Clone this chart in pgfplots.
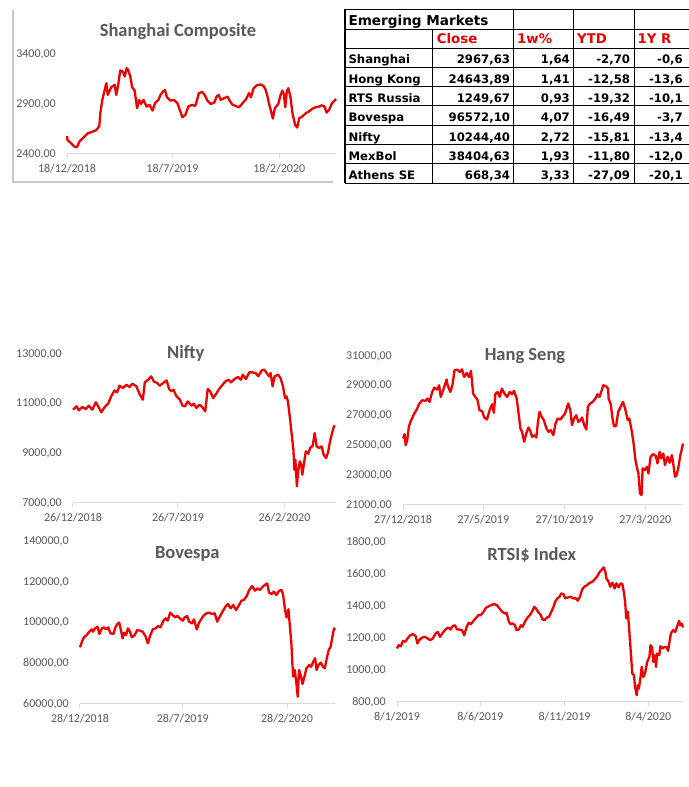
\documentclass[border=0pt]{standalone}
\usepackage{pgfplots}
\pgfplotsset{compat=1.18}
\usepackage{fontspec}
\setmainfont{Carlito}
\newfontfamily\tabfont{DejaVu Sans}
\definecolor{lbl}{HTML}{595959}
\definecolor{axl}{HTML}{D9D9D9}
\definecolor{ser}{RGB}{240,0,0}
\definecolor{hdr}{RGB}{230,0,0}
\definecolor{frm}{HTML}{C8C8C8}
\pgfplotsset{
 mychart/.style={
  scale only axis,
  enlargelimits=false,
  scaled y ticks=false, scaled x ticks=false,
  axis x line=bottom, axis y line=left,
  axis line style={-},
  x axis line style={draw=axl, line width=1pt},
  y axis line style={draw=none},
  tick align=outside,
  major tick length=4pt,
  xtick style={draw=axl, line width=1pt},
  ytick style={draw=none},
  xticklabel style={font=\fontsize{12}{14}\selectfont, text=lbl, anchor=base, inner sep=0pt, yshift=-14.3pt},
  yticklabel style={font=\fontsize{12}{14}\selectfont, text=lbl, anchor=east, inner sep=0pt, xshift=-7pt},
  clip=false,
 },
 myline/.style={ser, line width=2.3pt, line join=round, mark=none},
}
\newcommand{\ttl}[1]{{\fontsize{18.5}{20}\selectfont\bfseries #1}}
\begin{document}
\begin{tikzpicture}[x=1pt,y=1pt]
\fill[white] (0,0) rectangle (688,787);
\path[use as bounding box] (0,0) rectangle (688,787);

% Shanghai frame
\draw[frm, line width=2pt] (13.3,777) -- (13.3,605.3) -- (333,605.3);

% ---------------- Shanghai ----------------
\begin{axis}[mychart, at={(67pt,633pt)}, anchor=south west, width=269pt, height=100pt,
  xmin=0, xmax=541, ymin=2400, ymax=3400,
  xtick={0,212,427}, xticklabels={18/12/2018,18/7/2019,18/2/2020},
  ytick={2400,2900,3400}, yticklabels={{2400,00},{2900,00},{3400,00}}]
\addplot[myline] coordinates {(0,2580)(1,2540)(8,2507)(15,2473)(20,2467)(25,2524)(35,2574)(42,2607)(52,2624)(59,2640)(65,2680)(67,2807)(71,2941)(75,3024)(79,3108)(82,2991)(89,3068)(96,3091)(99,2991)(103,3091)(107,3235)(112,3225)(116,3175)(120,3258)(123,3241)(127,3181)(131,3068)(136,3034)(141,2857)(145,2941)(149,2901)(154,2941)(160,2874)(166,2891)(172,2834)(177,2908)(184,2941)(188,2991)(193,3024)(197,3041)(201,2968)(208,2934)(215,2941)(222,2908)(227,2841)(232,2767)(238,2791)(244,2874)(251,2891)(258,2881)(262,2948)(265,3008)(272,3021)(278,2981)(282,2934)(289,2901)(296,2914)(301,2974)(305,2991)(309,2941)(316,2958)(323,2974)(327,2934)(333,2891)(339,2881)(346,2867)(353,2908)(360,2948)(366,3008)(370,2968)(375,3054)(382,3088)(389,3095)(395,3081)(399,3048)(403,2981)(406,2908)(410,2834)(414,2754)(418,2857)(425,2901)(429,2981)(433,3034)(436,3001)(439,2867)(442,3024)(445,3058)(449,2981)(454,2791)(459,2690)(463,2664)(467,2757)(473,2774)(480,2807)(487,2827)(494,2854)(500,2867)(507,2874)(512,2887)(518,2874)(522,2814)(527,2841)(533,2908)(537,2928)(541,2951)};
\end{axis}

% ---------------- Nifty ----------------
\begin{axis}[mychart, at={(73pt,284pt)}, anchor=south west, width=262pt, height=149pt,
  xmin=0, xmax=529, ymin=7000, ymax=13000,
  xtick={0,212,427}, xticklabels={26/12/2018,26/7/2019,26/2/2020},
  ytick={7000,9000,11000,13000}, yticklabels={{7000,00},{9000,00},{11000,00},{13000,00}}]
\addplot[myline] coordinates {(0,10758)(7,10892)(12,10731)(19,10865)(26,10784)(32,10919)(39,10758)(46,11053)(51,10892)(57,10650)(64,10865)(71,10999)(77,11294)(84,11536)(89,11455)(94,11724)(101,11630)(108,11764)(114,11670)(120,11804)(128,11697)(135,11362)(141,11160)(145,11858)(152,11965)(158,12100)(163,11898)(170,11831)(175,11724)(182,11831)(189,11939)(194,11590)(199,11496)(203,11563)(209,11294)(216,11160)(221,10919)(226,10892)(232,11093)(239,10919)(244,10999)(249,10825)(255,10959)(261,10865)(267,10690)(272,11590)(277,11496)(283,11227)(288,11362)(295,11590)(302,11764)(308,11898)(314,11965)(319,11858)(326,11992)(333,12073)(339,11965)(343,12167)(349,11992)(356,12261)(362,12261)(369,12234)(374,12100)(381,12341)(386,12368)(391,12234)(396,12100)(399,12234)(403,11697)(407,12100)(414,12167)(419,12033)(424,11697)(428,11227)(431,11294)(434,11093)(438,10422)(442,9684)(445,9147)(447,8342)(449,8745)(452,7671)(455,8342)(458,8678)(461,8543)(463,8141)(467,8678)(470,9080)(475,8986)(479,9214)(484,9308)(488,9818)(492,9281)(497,9214)(502,9281)(506,8946)(511,8812)(515,9040)(519,9483)(523,9818)(527,10087)(529,10114)};
\end{axis}

% ---------------- Hang Seng ----------------
\begin{axis}[mychart, at={(403pt,282pt)}, anchor=south west, width=280pt, height=149pt,
  xmin=0, xmax=527, ymin=21000, ymax=31000,
  xtick={0,151,304,456}, xticklabels={27/12/2018,27/5/2019,27/10/2019,27/3/2020},
  ytick={21000,23000,25000,27000,29000,31000}, yticklabels={{21000,00},{23000,00},{25000,00},{27000,00},{29000,00},{31000,00}}]
\addplot[myline] coordinates {(0,25464)(3,25754)(5,25018)(8,25352)(11,26245)(14,26580)(17,26803)(21,27138)(26,27406)(30,27763)(36,28031)(42,27986)(46,28142)(50,27919)(55,28589)(59,28879)(64,28745)(68,29035)(71,28254)(76,28745)(82,29415)(84,29035)(89,28589)(93,29035)(97,30040)(102,30084)(107,29928)(111,30107)(115,29593)(120,29861)(124,29593)(128,29995)(132,28477)(136,28254)(140,28075)(144,27361)(149,27294)(153,26870)(158,26736)(163,27361)(168,27763)(171,27183)(174,28477)(178,28589)(182,28254)(186,28812)(191,28477)(196,28254)(201,28589)(205,28432)(209,28656)(214,28142)(218,27026)(221,26134)(224,25910)(228,25241)(232,25799)(236,26201)(239,26022)(243,25576)(247,25687)(251,25531)(254,26580)(257,27250)(261,26915)(265,26692)(270,26134)(274,25910)(278,26022)(283,25687)(287,26468)(291,26803)(296,26736)(301,26959)(305,27138)(311,27808)(315,27361)(318,26357)(322,26803)(326,27026)(330,26580)(334,26692)(337,26870)(341,26357)(345,26067)(348,27584)(352,27808)(357,27919)(362,28142)(366,28432)(370,28254)(374,28700)(377,29035)(382,28968)(386,28812)(387,28142)(391,27763)(394,26870)(397,26290)(401,26290)(405,27250)(409,27540)(414,27919)(418,27473)(423,26692)(426,26803)(430,26067)(434,25129)(437,24125)(440,23567)(443,23120)(446,21781)(449,21670)(451,23455)(455,23343)(459,23567)(462,23120)(466,24236)(471,24415)(476,24281)(479,23790)(483,24571)(486,24125)(490,24460)(493,23678)(498,24236)(502,23835)(506,24348)(509,23678)(512,22897)(515,23008)(518,23455)(522,24348)(525,24794)(527,25129)};
\end{axis}

% ---------------- Bovespa ----------------
\begin{axis}[mychart, at={(80pt,83pt)}, anchor=south west, width=255pt, height=162.3pt,
  xmin=0, xmax=526, ymin=60000, ymax=140000,
  xtick={0,212,427}, xticklabels={28/12/2018,28/7/2019,28/2/2020},
  ytick={60000,80000,100000,120000,140000}, yticklabels={{60000,00},{80000,00},{100000,0},{120000,0},{140000,0}}]
\addplot[myline] coordinates {(0,87931)(4,90724)(8,92860)(14,94010)(19,95653)(24,96803)(27,95653)(31,97296)(36,98118)(40,94503)(45,97296)(49,97789)(54,96803)(58,97789)(63,94832)(69,94503)(73,97789)(77,99432)(81,100089)(85,95653)(88,92367)(91,95160)(95,94010)(99,97296)(103,95653)(107,92860)(113,94010)(118,96475)(124,96146)(129,95653)(135,93517)(140,89903)(144,93189)(150,96803)(156,97296)(161,98446)(166,97789)(172,101075)(177,102225)(181,101075)(186,105018)(191,103868)(196,102718)(201,103375)(206,102225)(212,101075)(216,102718)(221,103375)(225,100582)(231,99760)(235,101732)(241,96803)(245,99760)(251,102225)(256,103868)(261,104690)(267,105018)(272,104361)(278,104690)(283,100582)(289,103375)(294,105511)(300,107975)(305,109290)(311,107154)(316,108797)(322,106333)(327,108304)(333,110933)(338,111261)(344,113233)(349,116190)(355,118162)(361,115862)(366,117011)(371,116190)(377,117833)(381,118655)(386,119476)(390,114876)(395,114219)(400,115369)(405,113726)(411,115862)(416,116190)(419,113726)(423,106333)(426,102718)(430,106662)(433,98118)(436,89903)(438,80045)(440,73473)(443,76759)(446,71008)(449,63615)(452,76759)(456,73473)(459,69858)(463,73473)(467,77580)(473,79223)(477,78402)(481,80866)(485,82509)(488,76759)(492,79223)(497,80373)(501,78402)(505,77580)(509,82509)(513,86617)(517,88260)(520,92367)(524,97296)(526,96475)};
\end{axis}

% ---------------- RTSI ----------------
\begin{axis}[mychart, at={(397pt,85pt)}, anchor=south west, width=286pt, height=159.7pt,
  xmin=0, xmax=519, ymin=800, ymax=1800,
  xtick={0,151,304,456}, xticklabels={8/1/2019,8/6/2019,8/11/2019,8/4/2020},
  ytick={800,1000,1200,1400,1600,1800}, yticklabels={{800,00},{1000,00},{1200,00},{1400,00},{1600,00},{1800,00}}]
\addplot[myline] coordinates {(0,1135)(3,1156)(7,1149)(11,1183)(15,1177)(19,1197)(24,1218)(29,1225)(34,1212)(37,1166)(41,1191)(46,1204)(51,1208)(56,1197)(60,1187)(65,1197)(70,1229)(74,1239)(78,1208)(83,1233)(88,1254)(93,1267)(97,1254)(101,1275)(105,1281)(109,1254)(113,1254)(118,1250)(122,1218)(126,1267)(130,1296)(134,1288)(139,1308)(144,1329)(148,1344)(152,1344)(157,1365)(162,1392)(167,1400)(171,1407)(176,1413)(181,1407)(186,1386)(191,1365)(196,1354)(199,1359)(203,1302)(206,1288)(210,1292)(214,1281)(217,1250)(221,1254)(225,1281)(228,1271)(232,1302)(237,1329)(241,1344)(245,1365)(249,1396)(252,1386)(256,1365)(261,1344)(264,1317)(268,1313)(272,1329)(276,1334)(280,1365)(284,1396)(287,1428)(291,1449)(295,1459)(298,1480)(302,1476)(305,1449)(310,1455)(315,1459)(320,1449)(325,1449)(328,1434)(332,1459)(336,1505)(340,1522)(345,1532)(350,1547)(355,1553)(360,1574)(363,1585)(368,1616)(372,1630)(375,1643)(378,1616)(380,1574)(384,1553)(387,1522)(391,1547)(395,1511)(398,1543)(402,1518)(406,1543)(409,1538)(412,1480)(414,1428)(416,1323)(419,1365)(421,1271)(424,1124)(427,978)(430,967)(432,894)(435,842)(437,905)(439,884)(442,957)(444,1020)(447,957)(450,978)(454,1051)(458,1082)(460,1156)(463,1141)(465,1051)(468,1093)(470,1020)(472,1103)(476,1093)(478,1149)(482,1135)(485,1145)(489,1145)(492,1120)(495,1187)(497,1229)(501,1250)(505,1239)(508,1271)(512,1308)(514,1281)(517,1288)(519,1267)};
\end{axis}

% titles
\node[text=lbl] at (178,755.3) {\ttl{Shanghai Composite}};
\node[text=lbl] at (185.7,433.7) {\ttl{Nifty}};
\node[text=lbl] at (525,431.3) {\ttl{Hang Seng}};
\node[text=lbl] at (187.3,233) {\ttl{Bovespa}};
\node[text=lbl] at (531.7,232) {\ttl{RTSI\$ Index}};

% ---------------- Table ----------------
\begin{scope}[line width=1pt, black]
\foreach \yy in {777.7,757.7,738.7,719.7,700.4,681,661.7,642.4,623,603.7}
  \draw (345,\yy) -- (700,\yy);
\draw[line width=1.5pt] (345,777.7) -- (345,603.7);
\draw (432.7,757.7) -- (432.7,603.7);
\foreach \xx in {513.3,573.3,634.3}
  \draw (\xx,777.7) -- (\xx,603.7);
\end{scope}
\begin{scope}[every node/.style={inner sep=0pt}]
\node[anchor=base west] at (348.3,761.3) {\tabfont\bfseries\fontsize{13.6}{15}\selectfont Emerging Markets};
\foreach \xx/\tt in {436.7/Close,517/1w\%,577/YTD,637.5/1Y R}
  \node[anchor=base west, text=hdr] at (\xx,743) {\tabfont\bfseries\fontsize{13.3}{15}\selectfont \tt};
\foreach \yy/\na/\cl/\wk/\ytd/\yr in {
  723.1/Shanghai/{2967,63}/{1,64}/{-2,70}/{-0,6},
  703.8/Hong Kong/{24643,89}/{1,41}/{-12,58}/{-13,6},
  684.4/RTS Russia/{1249,67}/{0,93}/{-19,32}/{-10,1},
  665.1/Bovespa/{96572,10}/{4,07}/{-16,49}/{-3,7},
  645.8/Nifty/{10244,40}/{2,72}/{-15,81}/{-13,4},
  626.4/MexBol/{38404,63}/{1,93}/{-11,80}/{-12,0},
  607.1/Athens SE/{668,34}/{3,33}/{-27,09}/{-20,1}}{
  \node[anchor=base west] at (348.3,\yy) {\tabfont\bfseries\fontsize{11.7}{14}\selectfont \na};
  \node[anchor=base east] at (510.3,\yy) {\tabfont\bfseries\fontsize{11.7}{14}\selectfont \cl};
  \node[anchor=base east] at (570,\yy) {\tabfont\bfseries\fontsize{11.7}{14}\selectfont \wk};
  \node[anchor=base east] at (630.3,\yy) {\tabfont\bfseries\fontsize{11.7}{14}\selectfont \ytd};
  \node[anchor=base east] at (683,\yy) {\tabfont\bfseries\fontsize{11.7}{14}\selectfont \yr};
}
\end{scope}
\end{tikzpicture}
\end{document}
